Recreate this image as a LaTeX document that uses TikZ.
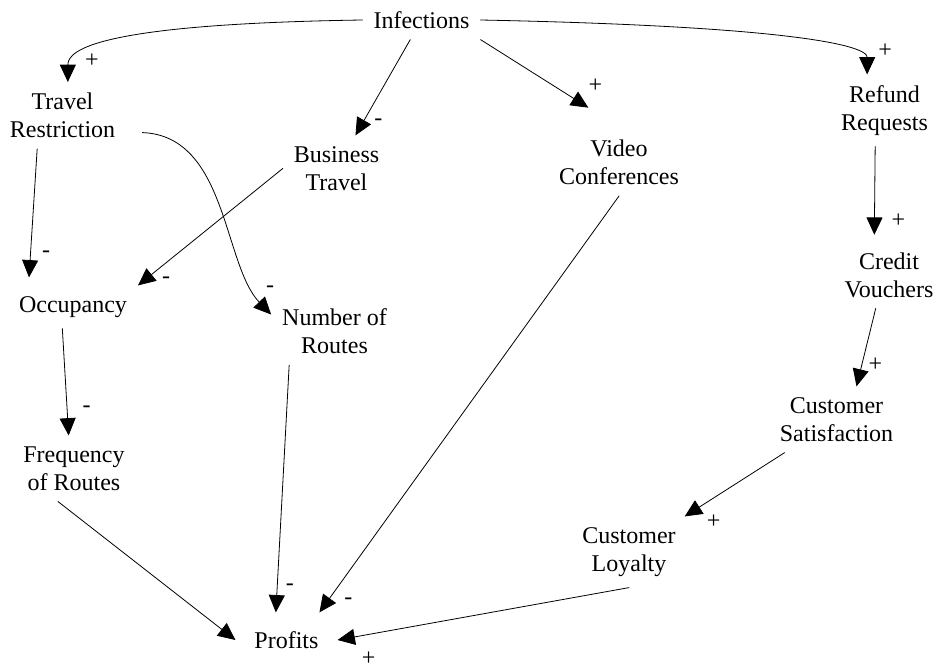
\documentclass[tikz,border=0pt]{standalone}
\usepackage{fontspec}
\setmainfont{Liberation Serif}
\usetikzlibrary{arrows.meta}
\tikzset{
	var/.style={align=center, inner sep=8pt, font=\fontsize{18}{21}\selectfont},
	sgn/.style={inner sep=0pt, font=\fontsize{18}{20}\selectfont},
}
\begin{document}
\begin{tikzpicture}[x=.75pt, y=-.75pt, line width=.6pt, line join=round, line cap=round, >={Triangle[length=13pt,width=12pt]}]
	\useasboundingbox (0,0) rectangle (938,671);
	\node[var] (inf) at (421.5,20) {Infections};
	\node[var] (trv) at (62.5,115.5) {Travel\\Restriction};
	\node[var] (bus) at (336.5,168.5) {Business\\Travel};
	\node[var] (vid) at (619,162.5) {Video\\Conferences};
	\node[var] (ref) at (884.5,110.5) {Refund\\Requests};
	\node[var] (cv) at (889,275) {Credit\\Vouchers};
	\node[var] (cs) at (836.5,419.5) {Customer\\Satisfaction};
	\node[var] (occ) at (73,307) {Occupancy};
	\node[var] (nor) at (334.5,331.5) {Number of\\Routes};
	\node[var] (freq) at (74,468.5) {Frequency\\of Routes};
	\node[var] (cl) at (629,552) {Customer\\Loyalty};
	\node[var, inner sep=14pt] (prof) at (286.5,640) {Profits};
	% links out of Infections
	\draw[->] (inf.west) .. controls +(-265,4) and +(0,-32) .. ([xshift=4pt]trv.north) node[sgn, at end, shift={(24,-21)}] {+};
	\draw[->] (inf.east) .. controls +(300,6) and +(0,-30) .. ([xshift=-13pt]ref.north) node[sgn, at end, shift={(18,-24)}] {+};
	\draw[->] (inf) -- (bus) node[sgn, at end, shift={(23,-13)}] {-};
	\draw[->] (inf.south east) -- ([xshift=-23pt,yshift=16pt]vid.north) node[sgn, at end, shift={(7,-22)}] {+};
	% right chain
	\draw[->] ([xshift=-7pt]ref.south) -- ([xshift=-11pt,yshift=5pt]cv.north) node[sgn, at end, shift={(24,-14)}] {+};
	\draw[->] ([xshift=-10pt]cv.south) -- ([xshift=15pt]cs.north) node[sgn, at end, shift={(19,-22)}] {+};
	\draw[->] (cs) -- (cl) node[sgn, at end, shift={(29,5)}] {+};
	\draw[->] (cl.south) -- (prof.east) node[sgn, at end, shift={(31,19)}] {+};
	% left side
	\draw[->] ([xshift=-19pt]trv.south) -- ([xshift=-33pt,yshift=6pt]occ.north) node[sgn, at end, shift={(17,-23)}] {-};
	\draw[->] (bus.west) -- (occ.north east) node[sgn, at end, shift={(28,-5)}] {-};
	\draw[->] ([xshift=12pt]trv.-15) .. controls +(85,3) and +(-48,-50) .. (nor.165) node[sgn, at end, shift={(-1,-25)}] {-};
	\draw[->] ([xshift=-8pt]occ.south) -- ([xshift=-4pt]freq.north) node[sgn, at end, shift={(18,-26)}] {-};
	% into Profits
	\draw[->] ([xshift=-12pt]freq.south) -- (prof.west);
	\draw[->] ([xshift=-34pt]nor.south) -- ([xshift=-8pt]prof.north) node[sgn, at end, shift={(14,-25)}] {-};
	\draw[->] (vid.south) -- (prof.40) node[sgn, at end, shift={(29,-11)}] {-};
\end{tikzpicture}
\end{document}
